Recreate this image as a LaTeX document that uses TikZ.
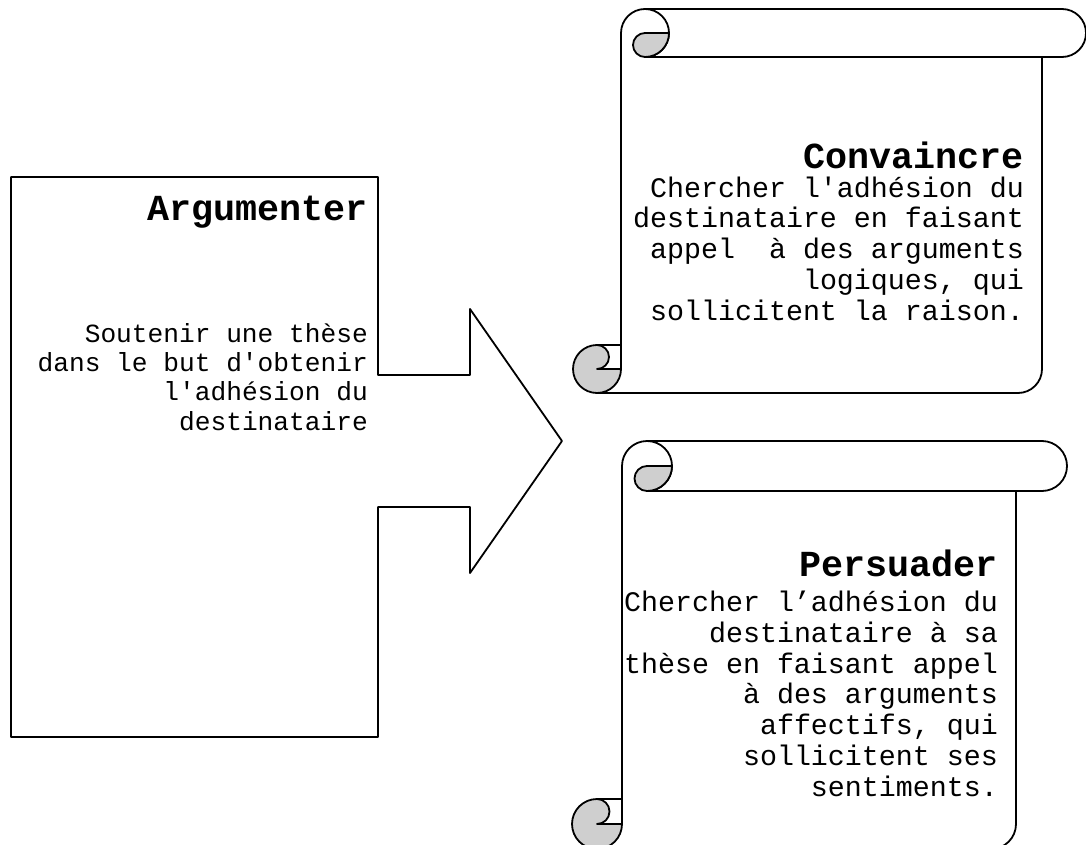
\documentclass[tikz,border=0pt]{standalone}
\usepackage{fontspec}
\setmonofont{Liberation Mono}
\definecolor{curlgray}{gray}{0.81}

\tikzset{
  outline/.style={line width=1.8pt, line join=round},
  curl/.style={outline, fill=curlgray},
  titletext/.style={font=\ttfamily\bfseries\fontsize{36.7}{40}\selectfont,
                    inner sep=0pt, anchor=base east},
  % multi-line blocks are placed by the baseline of their last line
  boxtext/.style={font=\ttfamily\fontsize{26.2}{29.3}\selectfont,
                  align=right, inner sep=0pt, anchor=base east},
  scrolltext/.style={font=\ttfamily\fontsize{28.3}{30.7}\selectfont,
                     align=right, inner sep=0pt, anchor=base east},
}

% Vertical scroll: #1 left edge, #2 right edge, #3 top, #4 bottom,
% #5 curl radius, #6 x of the centre of the band's rounded end
\newcommand\scrollshape[6]{%
  \pgfmathsetmacro\sa{#1+#5}%
  \pgfmathsetmacro\sb{#3-#5}%
  \pgfmathsetmacro\sc{#3-2*#5}%
  \pgfmathsetmacro\sd{#1-#5}%
  \pgfmathsetmacro\se{#4+#5}%
  \pgfmathsetmacro\sh{#5/2}%
  % body and rolled top band
  \draw[outline] (#1,\se) -- (#1,\sb) arc[start angle=180,end angle=-90,radius=#5];
  \draw[outline] (\sa,#3) -- (#6,#3) arc[start angle=90,end angle=-90,radius=#5] -- (\sa,\sc);
  \draw[outline] (#2,\sc) -- (#2,\se) arc[start angle=0,end angle=-90,radius=#5] -- (\sd,#4);
  % top curl
  \draw[curl] (\sa,\sc) arc[start angle=-90,end angle=-270,radius=\sh]
    -- (\sa+#5,\sb) arc[start angle=0,end angle=-90,radius=#5] -- cycle;
  % bottom curl
  \draw[curl] (\sd,\se+#5) arc[start angle=90,end angle=360,radius=#5]
    -- (\sd,\se) arc[start angle=-90,end angle=90,radius=\sh] -- cycle;
  \draw[outline] (\sd,\se+#5) -- (#1,\se+#5);
}

\begin{document}
\begin{tikzpicture}[x=1pt,y=1pt]
  \useasboundingbox (0,0) rectangle (1086,-845);
  \clip (0,0) rectangle (1086,-845);

  % callout with arrow
  \draw[outline] (11,-177) -- (378,-177) -- (378,-375) -- (470,-375) -- (470,-309)
    -- (562,-441) -- (470,-573) -- (470,-507) -- (378,-507) -- (378,-737)
    -- (11,-737) -- cycle;

  % scrolls
  \scrollshape{621}{1042}{-9}{-393}{24}{1062}
  \scrollshape{622}{1016}{-441}{-849}{25}{1042}

  % texts
  \node[titletext] (argtitle) at (368,-220) {Argumenter};
  \node[boxtext] (argtext) at (368,-430)
    {Soutenir une thèse\\dans le but d'obtenir\\l'adhésion du\\destinataire};

  \node[titletext] (convtitle) at (1024,-168) {Convaincre};
  \node[scrolltext] (convtext) at (1024,-320)
    {Chercher l'adhésion du\\destinataire en faisant\\appel~ à des arguments\\logiques, qui\\sollicitent la raison.};

  \node[titletext] (perstitle) at (998,-576) {Persuader};
  \node[scrolltext] (perstext) at (998,-796)
    {Chercher l’adhésion du\\destinataire à sa\\thèse en faisant appel\\à des arguments\\affectifs, qui\\sollicitent ses\\sentiments.};
\end{tikzpicture}
\end{document}
